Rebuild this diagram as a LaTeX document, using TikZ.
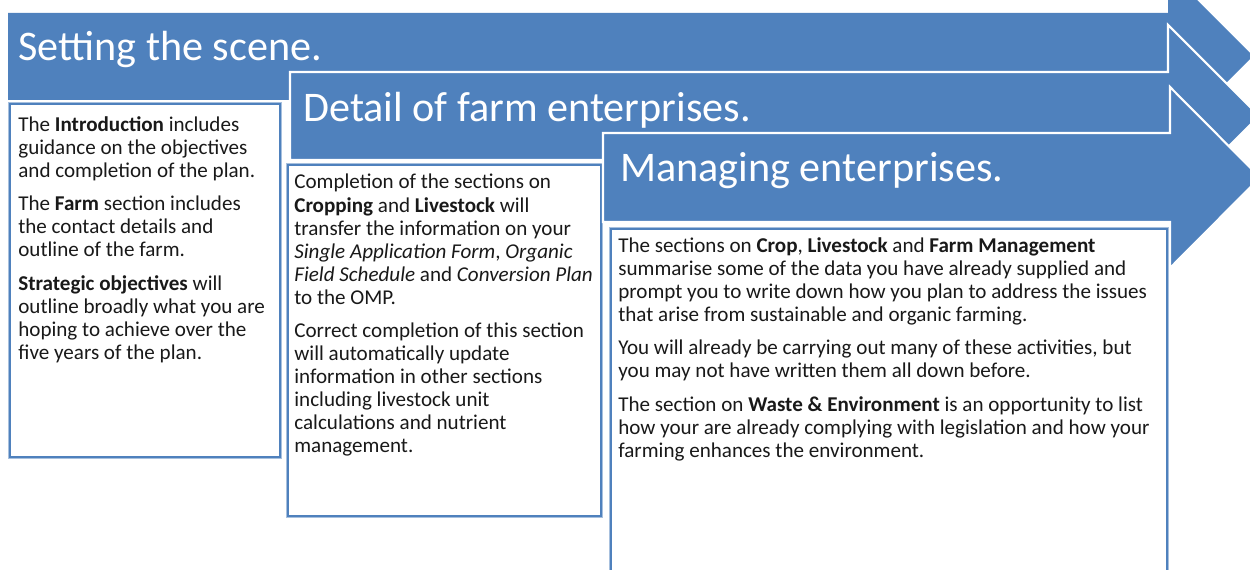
\documentclass[tikz,border=0pt]{standalone}
\usepackage{fontspec}
\setmainfont{Carlito}
\definecolor{bandblue}{HTML}{4F81BD}
\definecolor{haloblue}{HTML}{A7C0DE}

\begin{document}
\begin{tikzpicture}[x=0.02cm,y=-0.02cm,
    band/.style={fill=bandblue,draw=white,line width=1.2pt,line join=miter},
    panel/.style={draw=bandblue,line width=1.3pt,fill=white,
        preaction={draw=haloblue,line width=2.6pt}},
    title/.style={anchor=base west,inner sep=0pt,text=white,font=\fontsize{24}{28}\selectfont},
    body/.style={anchor=north west,inner sep=0pt,align=left,text=black!90,
        font=\fontsize{12}{13.1}\selectfont}]
    \useasboundingbox (0,0) rectangle (1250,570);

    %first stage
    \filldraw[band,draw=none] (8,13) -- (1168,13) -- (1168,-29) -- (1253,56) -- (1168,141)
        -- (1168,100) -- (8,100) -- cycle;
    \node[title] (scene) at (18,61) {Setting the scene.};
    \draw[panel] (10,104) rectangle (280,457);
    \node[body] (intro) at (18,116) {The \textbf{Introduction} includes\\
        guidance on the objectives\\
        and completion of the plan.\\[6pt]
        The \textbf{Farm} section includes\\
        the contact details and\\
        outline of the farm.\\[6pt]
        \textbf{Strategic objectives} will\\
        outline broadly what you are\\
        hoping to achieve over the\\
        five years of the plan.};

    %second stage
    \filldraw[band] (290,72) -- (1168,72) -- (1168,25) -- (1259,116) -- (1168,207)
        -- (1168,160) -- (290,160) -- cycle;
    \node[title] (detail) at (303,122) {Detail of farm enterprises.};
    \draw[panel] (288,165) rectangle (601,516);
    \node[body] (crops) at (294,174) {Completion of the sections on\\
        \textbf{Cropping} and \textbf{Livestock} will\\
        transfer the information on your\\
        \textit{Single Application Form}, \textit{Organic}\\
        \textit{Field Schedule} and \textit{Conversion Plan}\\
        to the OMP.\\[6pt]
        Correct completion of this section\\
        will automatically update\\
        information in other sections\\
        including livestock unit\\
        calculations and nutrient\\
        management.};

    %third stage
    \filldraw[band] (603,133) -- (1170,133) -- (1170,87) -- (1260,177.5) -- (1170,268)
        -- (1170,222) -- (603,222) -- cycle;
    \node[title] (managing) at (620,182) {Managing enterprises.};
    \draw[panel] (611,229) rectangle (1167,590);
    \node[body] (manage) at (618,237) {The sections on \textbf{Crop}, \textbf{Livestock} and \textbf{Farm Management}\\
        summarise some of the data you have already supplied and\\
        prompt you to write down how you plan to address the issues\\
        that arise from sustainable and organic farming.\\[6pt]
        You will already be carrying out many of these activities, but\\
        you may not have written them all down before.\\[6pt]
        The section on \textbf{Waste \& Environment} is an opportunity to list\\
        how your are already complying with legislation and how your\\
        farming enhances the environment.};
\end{tikzpicture}
\end{document}
